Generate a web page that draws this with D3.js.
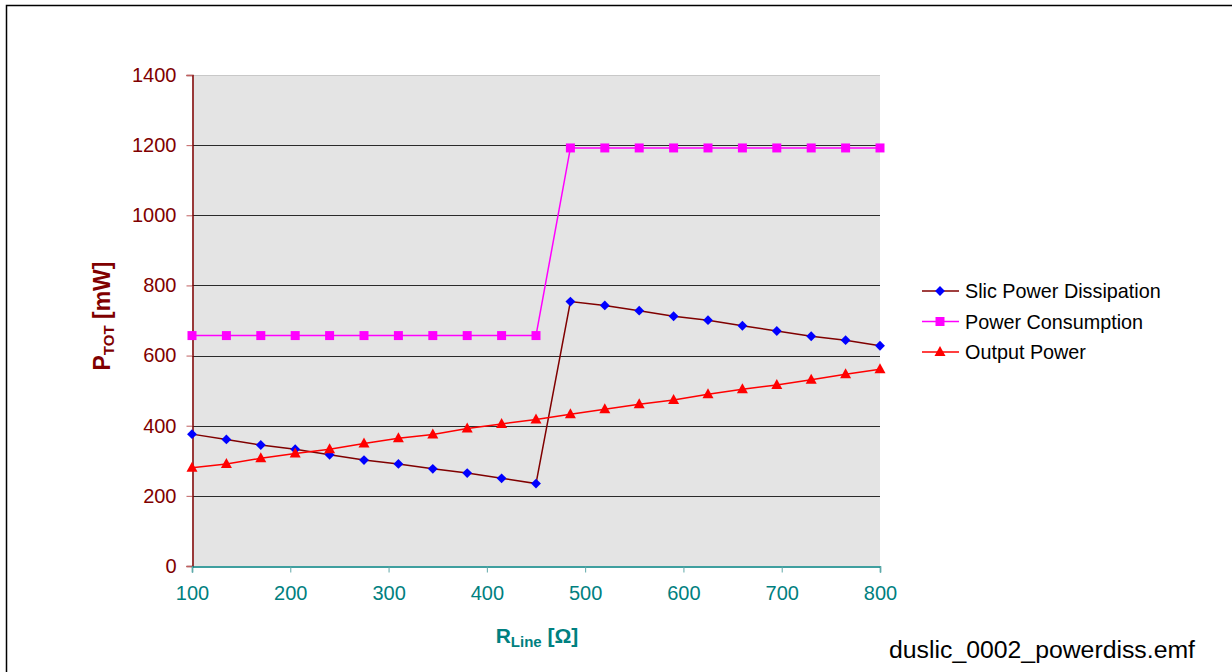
<!DOCTYPE html>
<html>
<head>
<meta charset="utf-8">
<script src="https://cdn.jsdelivr.net/npm/d3@7"></script>
<style>
  body { margin: 0; background: #fff; }
  text { font-family: "Liberation Sans", Arial, sans-serif; }
</style>
</head>
<body>
<svg id="chart" width="1232" height="672"></svg>
<script>
// line resistance values (ohm)
var rLine = [100, 135, 170, 205, 240, 275, 310, 345, 380, 415, 450,
             485, 520, 555, 590, 625, 660, 695, 730, 765, 800];

var slicDissipation = [376, 361, 345, 333, 317, 302, 291, 277, 265, 250, 235,
                       754, 743, 728, 712, 701, 685, 670, 655, 644, 628];
var powerConsumption = [657, 657, 657, 657, 657, 657, 657, 657, 657, 657, 657,
                        1192, 1192, 1192, 1192, 1192, 1192, 1192, 1192, 1192, 1192];
var outputPower = [280, 291, 307, 321, 333, 349, 364, 375, 392, 405, 418,
                   433, 447, 461, 473, 490, 504, 516, 531, 547, 561];

var xTicks = [100, 200, 300, 400, 500, 600, 700, 800];
var yTicks = [0, 200, 400, 600, 800, 1000, 1200, 1400];

var series = [
    {name: 'Slic Power Dissipation', values: slicDissipation, line: '#800000', fill: '#0000ff', shape: 'diamond'},
    {name: 'Power Consumption', values: powerConsumption, line: '#ff00ff', fill: '#ff00ff', shape: 'square'},
    {name: 'Output Power', values: outputPower, line: '#ff0000', fill: '#ff0000', shape: 'triangle'}
];

var svg = d3.select('#chart');
var plotLeft = 192, plotRight = 880, plotTop = 75, plotBottom = 566;

// outer frame
svg.append('rect')
    .attr('x', 6.5).attr('y', 5.5)
    .attr('width', 1240).attr('height', 700)
    .attr('fill', 'none').attr('stroke', '#000').attr('stroke-width', 1.5);

var x = d3.scaleLinear().domain([100, 800]).range([plotLeft, plotRight]);
var y = d3.scaleLinear().domain([0, 1400]).range([plotBottom, plotTop]);

// plot area
svg.append('rect')
    .attr('x', plotLeft).attr('y', plotTop)
    .attr('width', plotRight - plotLeft).attr('height', plotBottom - plotTop)
    .attr('fill', '#e4e4e4');

// grid lines
svg.append('g').selectAll('line')
    .data(yTicks.filter(function(d) { return d > 0; }))
    .enter().append('line')
    .attr('x1', plotLeft).attr('x2', plotRight)
    .attr('y1', function(d) { return Math.round(y(d)) + 0.5; })
    .attr('y2', function(d) { return Math.round(y(d)) + 0.5; })
    .attr('stroke', function(d) { return d === 1400 ? '#c8c8c8' : '#2a2a2a'; })
    .attr('stroke-width', 1);

// y axis
var yAxis = svg.append('g')
    .attr('transform', 'translate(' + (plotLeft + 0.5) + ',0)')
    .call(d3.axisLeft(y).tickValues(yTicks).tickSize(6).tickPadding(10).tickFormat(d3.format('d')));
yAxis.select('.domain').attr('stroke', '#800000').attr('stroke-width', 1.5);
yAxis.selectAll('.tick line').attr('stroke', '#c06060');
yAxis.selectAll('.tick text')
    .attr('fill', '#800000')
    .style('font-size', '20px')
    .style('font-family', '"Liberation Sans", Arial, sans-serif');

// x axis
var xAxis = svg.append('g')
    .attr('transform', 'translate(0,' + (plotBottom + 0.5) + ')')
    .call(d3.axisBottom(x).tickValues(xTicks).tickSize(6).tickPadding(13).tickFormat(d3.format('d')));
xAxis.select('.domain').attr('stroke', '#008080').attr('stroke-width', 1.5);
xAxis.selectAll('.tick line').attr('stroke', '#60a8a8');
xAxis.selectAll('.tick text')
    .attr('fill', '#008080')
    .style('font-size', '20px')
    .style('font-family', '"Liberation Sans", Arial, sans-serif');

function markerPath(shape) {
    if (shape === 'diamond') return d3.symbol().type(d3.symbolDiamond2).size(62)();
    if (shape === 'square') return d3.symbol().type(d3.symbolSquare).size(81)();
    return 'M0,-6L5.5,4L-5.5,4Z';
}

var line = d3.line()
    .x(function(d, i) { return x(rLine[i]); })
    .y(function(d) { return y(d); });

series.forEach(function(s) {
    var g = svg.append('g');
    g.append('path')
        .datum(s.values)
        .attr('d', line)
        .attr('fill', 'none')
        .attr('stroke', s.line)
        .attr('stroke-width', 1.5);
    g.selectAll('path.mark')
        .data(s.values)
        .enter().append('path')
        .attr('class', 'mark')
        .attr('d', markerPath(s.shape))
        .attr('transform', function(d, i) { return 'translate(' + x(rLine[i]) + ',' + y(d) + ')'; })
        .attr('fill', s.fill);
});

// legend
var legend = svg.append('g');
series.forEach(function(s, i) {
    var ly = 291 + i * 30.5;
    legend.append('line')
        .attr('x1', 922).attr('x2', 959)
        .attr('y1', ly).attr('y2', ly)
        .attr('stroke', s.line).attr('stroke-width', 1.5);
    legend.append('path')
        .attr('d', markerPath(s.shape))
        .attr('transform', 'translate(940,' + ly + ')')
        .attr('fill', s.fill);
    legend.append('text')
        .attr('x', 965).attr('y', ly + 7)
        .style('font-size', '19.8px')
        .attr('fill', '#000')
        .text(s.name);
});

// axis titles
var yTitle = svg.append('text')
    .attr('transform', 'translate(110,316) rotate(-90)')
    .attr('text-anchor', 'middle')
    .attr('fill', '#800000')
    .style('font-size', '23px')
    .style('font-weight', 'bold');
yTitle.append('tspan').text('P');
yTitle.append('tspan').style('font-size', '15px').attr('dy', 4).text('TOT');
yTitle.append('tspan').attr('dy', -4).text(' [mW]');

var xTitle = svg.append('text')
    .attr('x', 537).attr('y', 643)
    .attr('text-anchor', 'middle')
    .attr('fill', '#008080')
    .style('font-size', '21px')
    .style('font-weight', 'bold');
xTitle.append('tspan').text('R');
xTitle.append('tspan').style('font-size', '15px').attr('dy', 4).text('Line');
xTitle.append('tspan').attr('dy', -4).text(' [\u03a9]');

// file name
svg.append('text')
    .attr('x', 1195).attr('y', 658)
    .attr('text-anchor', 'end')
    .attr('fill', '#000')
    .style('font-size', '24.8px')
    .text('duslic_0002_powerdiss.emf');
</script>
</body>
</html>
